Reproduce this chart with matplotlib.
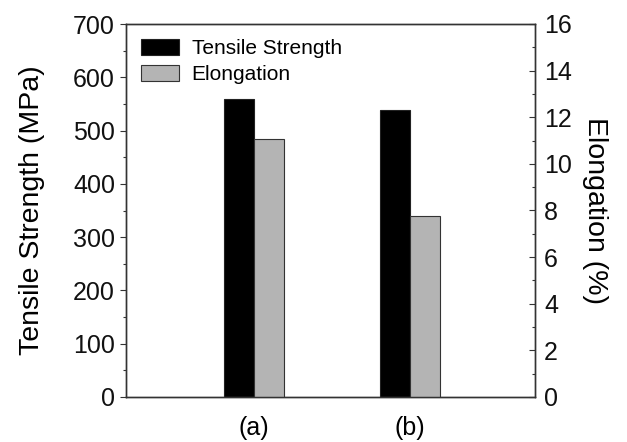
import matplotlib.pyplot as plt
import numpy as np
from matplotlib.ticker import MultipleLocator

plt.rcParams['font.family'] = ['Liberation Sans', 'DejaVu Sans']

samples = ['(a)', '(b)']
tensile = [560, 539]
elong = [11.05, 7.75]

x = np.arange(1, len(samples) + 1)
w = 0.19

fig = plt.figure(figsize=(6.27, 4.42), dpi=100)
ax = fig.add_axes([126 / 627, 45 / 442, 409 / 627, 373 / 442])
ax2 = ax.twinx()

b1 = ax.bar(x - w / 2, tensile, w, color='black', edgecolor='#222222', linewidth=0.8,
            label='Tensile Strength')
b2 = ax2.bar(x + w / 2, elong, w, color='#b4b4b4', edgecolor='#333333', linewidth=0.8,
             label='Elongation')

ax.set_xlim(0.18, 2.80)
ax.set_ylim(0, 700)
ax2.set_ylim(0, 16)
ax.set_xticks(x)
ax.set_xticklabels(samples, fontsize=18)
ax.tick_params(axis='x', length=0, pad=14)

ax.yaxis.set_major_locator(MultipleLocator(100))
ax.yaxis.set_minor_locator(MultipleLocator(50))
ax2.yaxis.set_major_locator(MultipleLocator(2))
ax2.yaxis.set_minor_locator(MultipleLocator(1))

ax.tick_params(axis='y', which='major', direction='out', length=4.5, width=0.8, labelsize=18,
               colors='#333333', labelcolor='#111111', pad=3.5)
ax.tick_params(axis='y', which='minor', direction='out', length=2.5, width=0.8, colors='#333333')
ax2.tick_params(axis='y', which='major', direction='in', length=4.5, width=0.8, labelsize=18,
                colors='#333333', labelcolor='#111111', pad=6.5)
ax2.tick_params(axis='y', which='minor', direction='in', length=2.5, width=0.8, colors='#333333')
for a in (ax, ax2):
    for s in a.spines.values():
        s.set_linewidth(1.0)
        s.set_color('#333333')

ax.set_ylabel('Tensile Strength (MPa)', fontsize=20.5, labelpad=20)
ax2.set_ylabel('Elongation (%)', fontsize=20.5, rotation=270, labelpad=26)

ax.legend([b1, b2], ['Tensile Strength', 'Elongation'], loc='upper left', frameon=False,
          fontsize=15, handlelength=1.85, handleheight=0.8, borderaxespad=0.3,
          handletextpad=0.6, labelspacing=0.35)

fig.savefig('out.png', dpi=100)
